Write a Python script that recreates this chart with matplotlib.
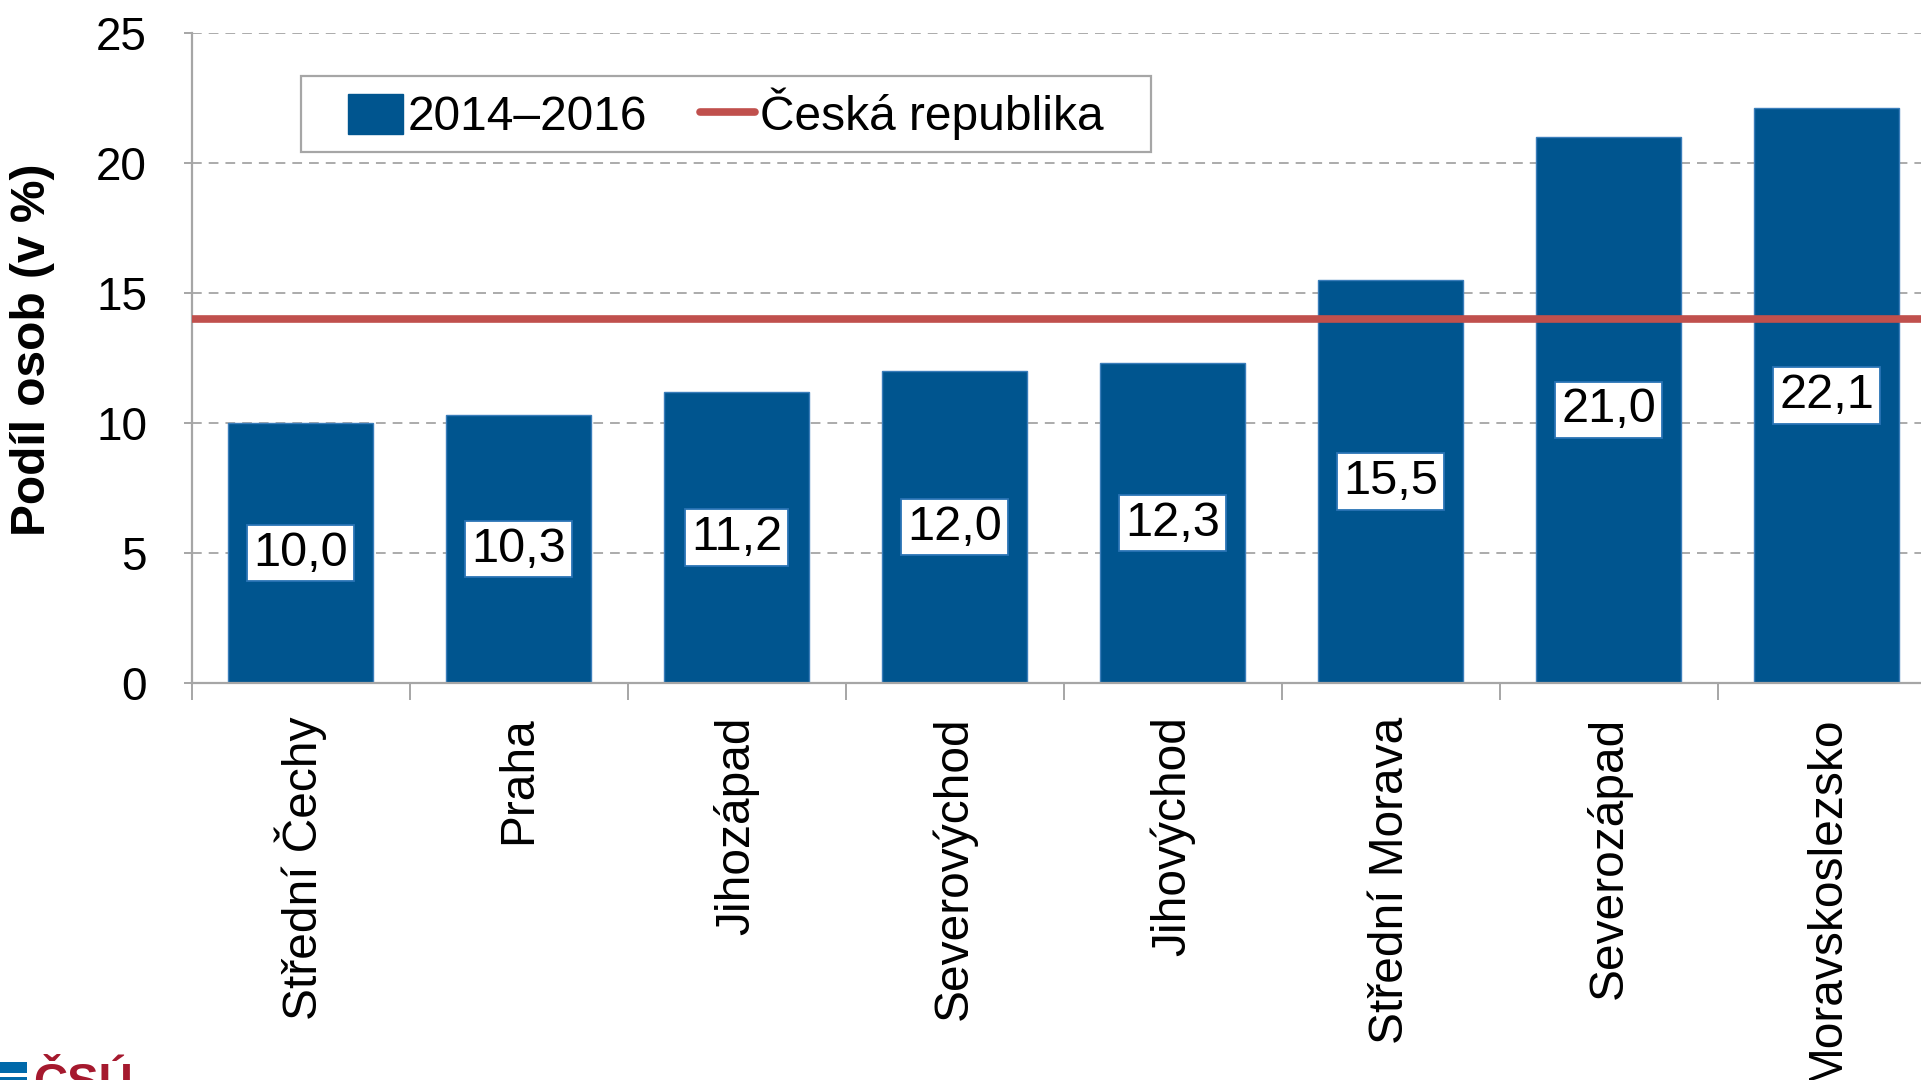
import numpy as np
import matplotlib
matplotlib.use("Agg")
import matplotlib.pyplot as plt
from matplotlib.patches import Rectangle, Patch
from matplotlib.lines import Line2D

plt.rcParams['font.family'] = ['Liberation Sans', 'DejaVu Sans']

# data
regiony = ['Střední Čechy', 'Praha', 'Jihozápad', 'Severovýchod',
           'Jihovýchod', 'Střední Morava', 'Severozápad', 'Moravskoslezsko']
podil = [10.0, 10.3, 11.2, 12.0, 12.3, 15.5, 21.0, 22.1]
cr_hodnota = 14.0
serie_nazev = '2014–2016'
cr_nazev = 'Česká republika'
y_ticks = [0, 5, 10, 15, 20, 25]

modra = '#00558F'
cervena = '#C0504D'
seda = '#A6A6A6'

W, H = 1921, 1080
fig = plt.figure(figsize=(W / 100, H / 100), dpi=100)
# axes in pixel coords: left 191.5, bottom 683, top 33, 8 categories * 218 px
ax = fig.add_axes([191.5 / W, 1 - 683 / H, 8 * 218 / W, (683 - 33) / H])

x = np.arange(len(regiony))
ax.bar(x, podil, width=0.665, color=modra, edgecolor='#3A7DBA', linewidth=1.0, zorder=2)
ax.axhline(cr_hodnota, color=cervena, linewidth=5.5, zorder=3)

for xi, v in zip(x, podil):
    ax.text(xi, v / 2, f'{v:.1f}'.replace('.', ','), ha='center', va='center',
            fontsize=35, zorder=4,
            bbox=dict(boxstyle='square,pad=0.12', fc='white', ec='#2A74B5', lw=1.3))

ax.set_xlim(-0.5, len(regiony) - 0.5)
ax.set_ylim(0, 25)
ax.set_yticks(y_ticks)
ax.set_yticklabels([str(t) for t in y_ticks])

# category labels on centers, ticks between categories
ax.set_xticks(x)
ax.set_xticklabels(regiony, rotation=90, fontsize=34.5, va='top', ha='center')
ax.set_xticks(np.arange(-0.5, len(regiony)), minor=True)
ax.tick_params(axis='x', which='major', length=0, pad=24)
ax.tick_params(axis='x', which='minor', length=12, width=1.4, color=seda, direction='out')
ax.tick_params(axis='y', labelsize=33, length=6, width=1.4, color=seda, pad=26)

ax.yaxis.grid(True, color='#ABABAB', linewidth=1.4, linestyle=(0, (5, 3.6)), zorder=0)
ax.set_axisbelow(True)

for s in ['top', 'right']:
    ax.spines[s].set_visible(False)
for s in ['left', 'bottom']:
    ax.spines[s].set_color(seda)
    ax.spines[s].set_linewidth(1.6)

ax.set_ylabel('Podíl osob (v %)', fontsize=34.5, fontweight='bold')
ax.yaxis.set_label_coords(-0.078, 0.513)

# legend with a drawn frame
lx0, ly0, lx1, ly1 = 301, 76, 1151, 152
fig.patches.append(Rectangle((lx0 / W, 1 - ly1 / H), (lx1 - lx0) / W, (ly1 - ly0) / H,
                             transform=fig.transFigure, fill=True, fc='white',
                             ec=seda, lw=1.6, zorder=5))
handles = [Patch(facecolor=modra, edgecolor=modra),
           Line2D([0], [0], color=cervena, linewidth=5.5, solid_capstyle='round')]
leg = fig.legend(handles, [serie_nazev, cr_nazev], ncol=2, frameon=False,
                 loc='center', bbox_to_anchor=((lx0 + lx1) / 2 / W, 1 - (ly0 + ly1) / 2 / H),
                 fontsize=34.5, handlelength=1.15, handleheight=0.9, handletextpad=0.1,
                 columnspacing=1.1, borderpad=0.0)
leg.set_zorder(6)

# CSU logo fragment at the bottom-left corner (cut off as in the source)
fig.text(33 / W, 1 - 1096 / H, 'ČSÚ', fontsize=34, fontweight='bold', color='#A5192E',
         ha='left', va='baseline')
fig.patches.append(Rectangle((0, 1 - 1073 / H), 27 / W, 11 / H, transform=fig.transFigure,
                             fc='#0069AA', ec='none'))
fig.patches.append(Rectangle((0, 0), 27 / W, 3 / H, transform=fig.transFigure,
                             fc='#0069AA', ec='none'))

fig.savefig('out.png', dpi=100)
